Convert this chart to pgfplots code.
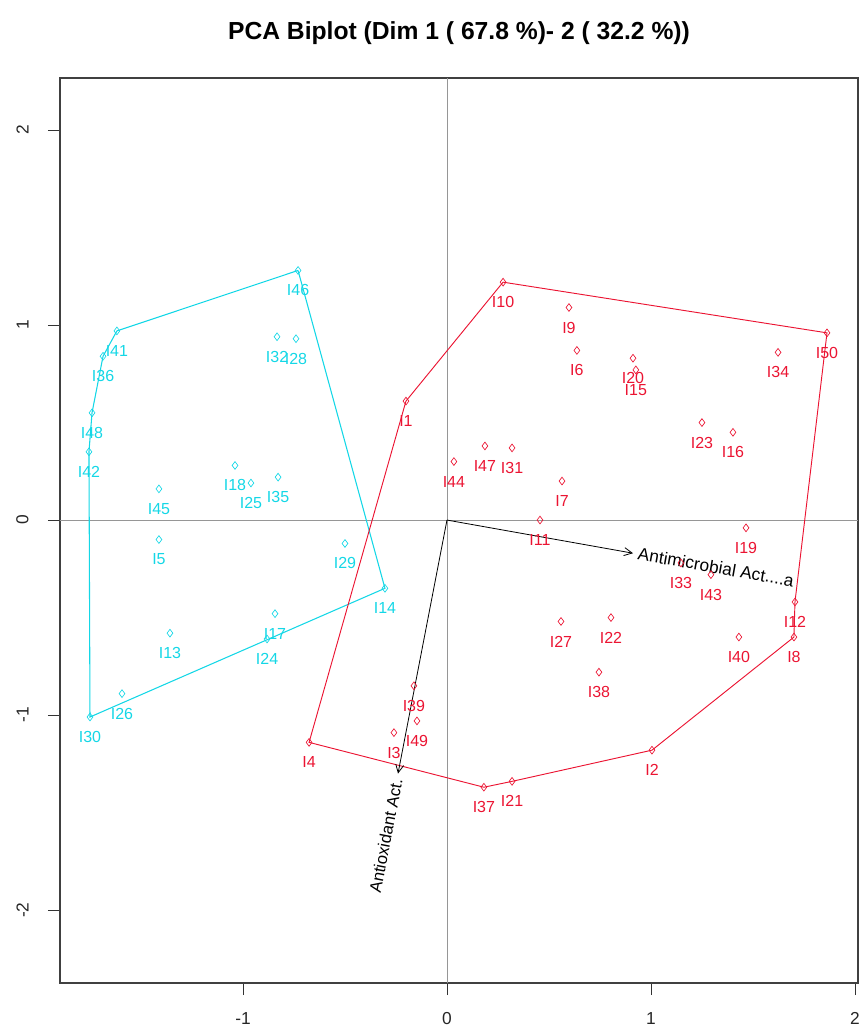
\documentclass[border=0pt]{standalone}
\usepackage{pgfplots}
\pgfplotsset{compat=1.18}
\usepackage{pgfplotstable}
\usepackage{fontspec}
\setmainfont{Liberation Sans}
\usetikzlibrary{arrows.meta}
\definecolor{cy}{RGB}{20,215,230}
\definecolor{rd}{RGB}{235,20,50}
\definecolor{zl}{RGB}{150,150,150}

\pgfplotstableread{
x y lab
-0.730 1.28 I46
-1.618 0.97 I41
-1.686 0.84 I36
-1.740 0.55 I48
-1.755 0.35 I42
-1.750 -1.01 I30
-1.593 -0.89 I26
-1.358 -0.58 I13
-0.843 -0.48 I17
-0.882 -0.61 I24
-1.412 -0.10 I5
-1.412 0.16 I45
-0.500 -0.12 I29
-1.039 0.28 I18
-0.961 0.19 I25
-0.828 0.22 I35
-0.833 0.94 I32
-0.740 0.93 I28
-0.304 -0.35 I14
}\cyantab

\pgfplotstableread{
x y lab
0.275 1.22 I10
0.598 1.09 I9
0.637 0.87 I6
0.912 0.83 I20
0.926 0.77 I15
1.623 0.86 I34
1.863 0.96 I50
-0.201 0.61 I1
1.250 0.50 I23
1.402 0.45 I16
0.186 0.38 I47
0.319 0.37 I31
0.034 0.30 I44
0.564 0.20 I7
0.456 0.00 I11
1.466 -0.04 I19
1.294 -0.28 I43
1.147 -0.22 I33
1.706 -0.42 I12
1.701 -0.60 I8
1.431 -0.60 I40
0.559 -0.52 I27
0.804 -0.50 I22
0.745 -0.78 I38
-0.162 -0.85 I39
-0.147 -1.03 I49
-0.260 -1.09 I3
-0.676 -1.14 I4
1.005 -1.18 I2
0.181 -1.37 I37
0.319 -1.34 I21
}\redtab

\begin{document}
\begin{tikzpicture}
\useasboundingbox (0,0) rectangle (646.5pt,771pt);
\node[font=\fontsize{18.5}{20}\selectfont\bfseries] at (344.25pt,746.25pt) {PCA Biplot (Dim 1 ( 67.8 \%)- 2 ( 32.2 \%))};
\begin{axis}[
  at={(45pt,33.75pt)}, anchor=south west,
  scale only axis, width=598.5pt, height=678.75pt,
  xmin=-1.897, xmax=2.015, ymin=-2.374, ymax=2.267,
  xtick={-1,0,1,2}, ytick={-2,-1,0,1,2},
  tick align=outside, tick pos=lower,
  major tick length=9pt,
  tick style={black!80, line width=0.6pt},
  axis line style={black!75, line width=0.8pt},
  /pgf/number format/assume math mode=true,
  tick label style={font=\fontsize{13}{15}\selectfont, text=black!85},
  xticklabel style={anchor=north, yshift=-9.5pt},
  yticklabel style={rotate=90, anchor=south},
  yticklabel shift=11pt,
  clip=true,
]
\addplot[zl, line width=0.6pt, forget plot] coordinates {(0,-2.374) (0,2.267)};
\addplot[zl, line width=0.6pt, forget plot] coordinates {(-1.897,0) (2.015,0)};

% hulls
\addplot[cy, line width=0.8pt] coordinates {(-0.730,1.28) (-1.618,0.97) (-1.686,0.84) (-1.740,0.55) (-1.755,0.35) (-1.750,-1.01) (-0.304,-0.35) (-0.730,1.28)};
\addplot[rd, line width=0.7pt] coordinates {(0.275,1.22) (1.863,0.96) (1.706,-0.42) (1.701,-0.60) (1.005,-1.18) (0.319,-1.34) (0.181,-1.37) (-0.676,-1.14) (-0.201,0.61) (0.275,1.22)};

% points
\addplot[only marks, mark=diamond, mark size=2.9pt, mark options={draw=cy, fill=none, line width=0.5pt},
  nodes near coords, point meta=explicit symbolic,
  every node near coord/.style={anchor=center, yshift=-15pt, font=\fontsize{12}{14}\selectfont, text=cy, inner sep=0pt}]
  table[x=x,y=y,meta=lab]{\cyantab};
\addplot[only marks, mark=diamond, mark size=2.9pt, mark options={draw=rd, fill=none, line width=0.5pt},
  nodes near coords, point meta=explicit symbolic,
  every node near coord/.style={anchor=center, yshift=-15pt, font=\fontsize{12}{14}\selectfont, text=rd, inner sep=0pt}]
  table[x=x,y=y,meta=lab]{\redtab};

% variable arrows
\addplot[black, line width=0.6pt, -{Straight Barb[length=6pt,width=6pt]}] coordinates {(0,0) (0.912,-0.17)};
\addplot[black, line width=0.6pt, -{Straight Barb[length=6pt,width=6pt]}] coordinates {(0,0) (-0.240,-1.30)};
\node[anchor=west, rotate=-10, font=\fontsize{13}{15}\selectfont, inner sep=1pt] at (axis cs:0.93,-0.17) {Antimicrobial Act....a};
\node[anchor=east, rotate=79, font=\fontsize{12.5}{14}\selectfont, inner sep=1pt] at (axis cs:-0.244,-1.32) {Antioxidant Act.};
\end{axis}
\end{tikzpicture}
\end{document}
